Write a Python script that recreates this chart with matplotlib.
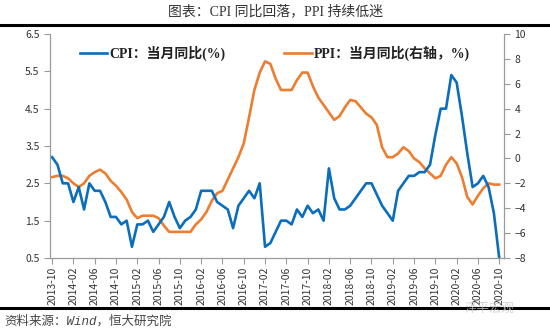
import numpy as np
import matplotlib
matplotlib.use("Agg")
import matplotlib.pyplot as plt

plt.rcParams['font.family'] = ['Noto Sans CJK SC', 'DejaVu Sans']

# monthly, 2013-10 .. 2020-10
months = []
y, m = 2013, 10
while (y, m) <= (2020, 10):
    months.append('{}-{:02d}'.format(y, m))
    m += 1
    if m > 12:
        m = 1
        y += 1

cpi = [3.2, 3.0, 2.5,
       2.5, 2.0, 2.4, 1.8, 2.5, 2.3, 2.3, 2.0, 1.6, 1.6, 1.4, 1.5,
       0.8, 1.4, 1.4, 1.5, 1.2, 1.4, 1.6, 2.0, 1.6, 1.3, 1.5, 1.6,
       1.8, 2.3, 2.3, 2.3, 2.0, 1.9, 1.8, 1.3, 1.9, 2.1, 2.3, 2.1,
       2.5, 0.8, 0.9, 1.2, 1.5, 1.5, 1.4, 1.8, 1.6, 1.9, 1.7, 1.8,
       1.5, 2.9, 2.1, 1.8, 1.8, 1.9, 2.1, 2.3, 2.5, 2.5, 2.2, 1.9,
       1.7, 1.5, 2.3, 2.5, 2.7, 2.7, 2.8, 2.8, 3.0, 3.8, 4.5, 4.5,
       5.4, 5.2, 4.3, 3.3, 2.4, 2.5, 2.7, 2.4, 1.7, 0.5]

ppi = [-1.5, -1.4, -1.4,
       -1.6, -2.0, -2.3, -2.0, -1.4, -1.1, -0.9, -1.2, -1.8, -2.2, -2.7, -3.3,
       -4.3, -4.8, -4.6, -4.6, -4.6, -4.8, -5.4, -5.9, -5.9, -5.9, -5.9, -5.9,
       -5.3, -4.9, -4.3, -3.4, -2.8, -2.6, -1.7, -0.8, 0.1, 1.2, 3.3, 5.5,
       6.9, 7.8, 7.6, 6.4, 5.5, 5.5, 5.5, 6.3, 6.9, 6.9, 5.8, 4.9,
       4.3, 3.7, 3.1, 3.4, 4.1, 4.7, 4.6, 4.1, 3.6, 3.3, 2.7, 0.9,
       0.1, 0.1, 0.4, 0.9, 0.6, 0.0, -0.3, -0.8, -1.2, -1.6, -1.4, -0.5,
       0.1, -0.4, -1.5, -3.1, -3.7, -3.0, -2.4, -2.0, -2.1, -2.1]

x = np.arange(len(months))

fig = plt.figure(figsize=(5.5, 3.32), dpi=100)
ax = fig.add_axes([0.0909, 0.2229, 0.8255, 0.6747])
ax2 = ax.twinx()

l1, = ax.plot(x, cpi, color='#0a6ebd', lw=1.9, solid_joinstyle='round')
l2, = ax2.plot(x, ppi, color='#ed7d31', lw=1.9, solid_joinstyle='round')
ax.set_zorder(ax2.get_zorder() + 1)
ax.patch.set_visible(False)

ax.set_xlim(-0.4, 84.9)
ax.set_ylim(0.5, 6.5)
ax.set_yticks([0.5, 1.5, 2.5, 3.5, 4.5, 5.5, 6.5])
ax2.set_ylim(-8, 10)
ax2.set_yticks(range(-8, 11, 2))
ax.set_xticks(x[::4])
ax.set_xticklabels(months[::4], rotation=90, fontsize=7.5, color='#333333')

for a in (ax, ax2):
    a.spines['top'].set_visible(False)
    for s in ('left', 'right', 'bottom'):
        a.spines[s].set_color('#9a9a9a')
    a.tick_params(colors='#9a9a9a', labelcolor='#333333', labelsize=7.5, length=4)
ax.tick_params(axis='x', length=4, pad=2)

leg = fig.legend([l1, l2], ['CPI：当月同比(%)', 'PPI：当月同比(右轴，%)'],
                 loc='upper left', bbox_to_anchor=(0.122, 0.9), ncol=2,
                 frameon=False, handlelength=2.0, handletextpad=0.15,
                 columnspacing=4.2,
                 prop={'size': 10, 'weight': 'bold',
                       'family': ['Liberation Serif', 'Noto Sans CJK SC']})
for t in leg.get_texts():
    t.set_color('#222222')

fig.text(0.5, 0.965, '图表：CPI 同比回落，PPI 持续低迷', ha='center', va='center',
         fontsize=10, color='#333333',
         family=['Liberation Serif', 'Noto Sans CJK SC'])
fig.add_artist(plt.Line2D([0.0, 1.0], [0.925, 0.925], color='black', lw=2.2,
                          transform=fig.transFigure))
fig.add_artist(plt.Line2D([0.0, 1.0], [0.072, 0.072], color='black', lw=2.2,
                          transform=fig.transFigure))
fig.text(0.008, 0.032, '资料来源：Wind，恒大研究院', ha='left', va='center',
         fontsize=9, style='italic', color='#444444',
         family=['Liberation Mono', 'Noto Sans CJK SC'])
fig.text(0.89, 0.072, '泽平宏观', ha='center', va='center', fontsize=9,
         color='#c8c8c8', alpha=0.8)

fig.savefig('out.png', dpi=100)
